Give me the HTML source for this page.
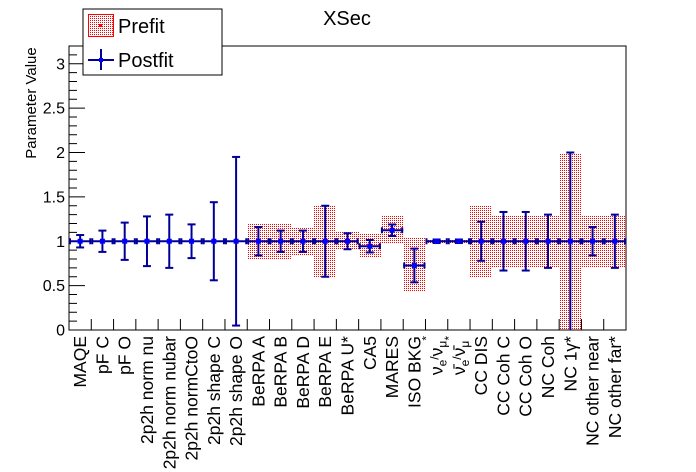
<!DOCTYPE html>
<html><head><meta charset="utf-8"><style>
body{margin:0;background:#fff;}
svg{display:block;font-family:"Liberation Sans",sans-serif;}
</style></head><body>
<svg id="c" width="696" height="472" viewBox="0 0 696 472">
<defs>
<pattern id="dots" width="2" height="2" patternUnits="userSpaceOnUse">
<rect width="2" height="2" fill="#fff"/><rect width="1" height="1" fill="#ff0000" shape-rendering="crispEdges"/>
</pattern>
</defs>
<text x="347" y="25" font-size="20" text-anchor="middle">XSec</text>
<text transform="translate(36,103) rotate(-90)" font-size="15" text-anchor="middle">Parameter Value</text>
<g id="plot"></g>
<g>
<rect x="83" y="9" width="139" height="66" fill="#fff" stroke="#000" stroke-width="1"/>
<rect x="88.5" y="14.5" width="25" height="22" fill="url(#dots)" stroke="#ff0000"/>
<rect x="99" y="24" width="3" height="3" fill="#ff0000"/>
<text x="118" y="33" font-size="20">Prefit</text>
<line x1="88" y1="60" x2="114" y2="60" stroke="#000099" stroke-width="2"/>
<line x1="101" y1="49" x2="101" y2="70" stroke="#000099" stroke-width="2"/>
<rect x="99" y="58" width="4" height="4" fill="#0000ff"/>
<text x="118" y="67" font-size="20">Postfit</text>
</g>
</svg>
<script>
const categories=["MAQE","pF C","pF O","2p2h norm nu","2p2h norm nubar","2p2h normCtoO","2p2h shape C","2p2h shape O","BeRPA A","BeRPA B","BeRPA D","BeRPA E","BeRPA U*","CA5","MARES","ISO BKG","NUE","NUEBAR","CC DIS","CC Coh C","CC Coh O","NC Coh","NC 1γ*","NC other near","NC other far*"];
const prefitValues=[null,null,null,null,null,null,null,null,1,1,1,1,1,0.95,1.13,0.74,1,1,1,1,1,1,1,1,1];
const prefitErrors=[0,0,0,0,0,0,0,0,0.2,0.2,0.15,0.4,0.1,0.143,0.15,0.31,0.03,0.03,0.4,0.3,0.3,0.3,1.0,0.3,0.3];
const postfitValues=[1,1,1,1,1,1,1,1,1,1,1,1,1,0.944,1.124,0.727,1,1,1,1,1,1,1,1,1];
const postfitErrors=[0.07,0.12,0.21,0.28,0.3,0.19,0.44,0.95,0.16,0.12,0.12,0.4,0.09,0.07,0.065,0.19,0.02,0.02,0.22,0.33,0.33,0.3,1.0,0.16,0.3];
const yTicks=["0","0.5","1","1.5","2","2.5","3"];

const X0=69,X1=626,Y0=330,Y1=46,YMAX=3.2;
const bw=(X1-X0)/categories.length;
const xs=i=>X0+i*bw;
const ys=v=>Y0-(Math.max(0,Math.min(YMAX,v))/YMAX)*(Y0-Y1);
const NS="http://www.w3.org/2000/svg";
const g=document.getElementById('plot');
function mk(t,a,p){const e=document.createElementNS(NS,t);for(const k in a)e.setAttribute(k,a[k]);(p||g).appendChild(e);return e;}

prefitValues.forEach((v,i)=>{
  if(v===null)return;
  const r=mk('rect',{x:Math.round(xs(i)),y:Math.round(ys(v+prefitErrors[i])),width:Math.round(xs(i+1))-Math.round(xs(i)),height:Math.round(ys(v-prefitErrors[i]))-Math.round(ys(v+prefitErrors[i])),fill:'url(#dots)','shape-rendering':'crispEdges'});
  
  
});
const fr=mk('rect',{x:X0,y:Y1,width:X1-X0,height:Y0-Y1,fill:'none',stroke:'#000','stroke-width':1});


for(let k=0;k<=32;k++){
  const v=k/10,y=ys(v),maj=k%5===0;
  mk('line',{x1:X0,x2:X0+(maj?16:8),y1:y,y2:y,stroke:'#000','stroke-width':1});
}
yTicks.forEach(t=>{
  const e=mk('text',{x:X0-4,y:ys(parseFloat(t))+5.5,'font-size':16,'text-anchor':'end'});
  e.textContent=t;
  
  
});
for(let i=1;i<categories.length;i++){
  mk('line',{x1:xs(i),x2:xs(i),y1:Y0,y2:Y0-11,stroke:'#000','stroke-width':1});
}
postfitValues.forEach((v,i)=>{
  const cx=xs(i)+bw/2,y=ys(v),e=postfitErrors[i];
  const gp=mk('g',{});
  
  
  const c='#000099';
  mk('line',{x1:xs(i),x2:xs(i+1),y1:y,y2:y,stroke:c,'stroke-width':2},gp);
  mk('line',{x1:xs(i)+1,x2:xs(i)+1,y1:y-3,y2:y+3,stroke:c,'stroke-width':2},gp);
  mk('line',{x1:xs(i+1)-1,x2:xs(i+1)-1,y1:y-3,y2:y+3,stroke:c,'stroke-width':2},gp);
  const yt=ys(v+e),yb=ys(v-e);
  mk('line',{x1:cx,x2:cx,y1:yt,y2:yb,stroke:c,'stroke-width':2},gp);
  mk('line',{x1:cx-4,x2:cx+4,y1:yt,y2:yt,stroke:c,'stroke-width':2},gp);
  if(v-e>0)mk('line',{x1:cx-4,x2:cx+4,y1:yb,y2:yb,stroke:c,'stroke-width':2},gp);
  mk('rect',{x:cx-2.5,y:y-2.5,width:5,height:5,fill:'#0000ff'},gp);
});
categories.forEach((t,i)=>{
  const cx=xs(i)+bw/2+6;
  const e=mk('text',{transform:`translate(${cx},${Y0+6}) rotate(-90)`,'font-size':17.5,'text-anchor':'end'});
  if(t==="NUE"||t==="NUEBAR"){
    const bar=t==="NUEBAR";
    const parts=[[bar?"ν̄":"ν",0],["e",4],["/",-4],[bar?"ν̄":"ν",0],["μ",4],["*",-12]];
    let prev=0;
    parts.forEach(([s,dy])=>{const ts=mk('tspan',{dy:dy-prev,'font-size':(dy!==0?12:17.5)},e);ts.textContent=s;prev=dy;});
  } else e.textContent=t;
  
  
});
</script>
</body></html>
